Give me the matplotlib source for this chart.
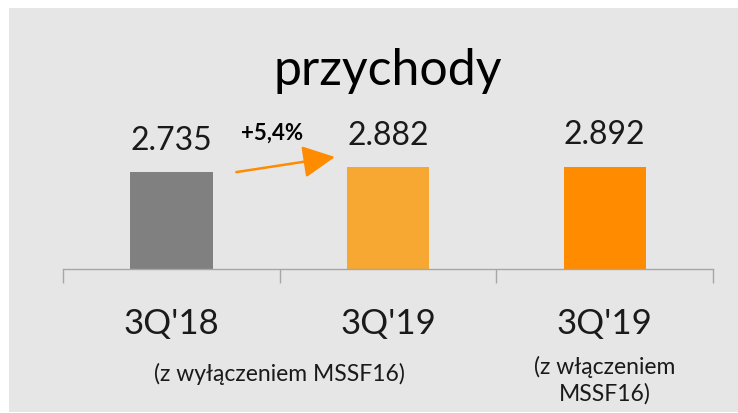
import matplotlib
matplotlib.use("Agg")
import matplotlib.pyplot as plt
import matplotlib.transforms as mtransforms
from matplotlib.patches import Rectangle, FancyArrowPatch

plt.rcParams['font.family'] = ['Lato', 'DejaVu Sans']

categories = ["3Q'18", "3Q'19", "3Q'19"]
subtitles = ["(z wyłączeniem MSSF16)", "(z włączeniem\nMSSF16)"]
values = [2735, 2882, 2892]
value_labels = ["2.735", "2.882", "2.892"]
colors = ["#808080", "#f7a833", "#ff8b00"]
title = "przychody"
growth_label = "+5,4%"

W, H = 738, 413
DPI = 100
fig = plt.figure(figsize=(W / DPI, H / DPI), dpi=DPI, facecolor="white")

def fx(px):
    return px / W

def fy(py):
    return 1 - py / H

# grey background panel
fig.patches.append(Rectangle((fx(9), fy(412)), fx(738) - fx(9), fy(8) - fy(412),
                             transform=fig.transFigure, facecolor="#e6e6e6",
                             edgecolor="none", zorder=-5))

ax_left, ax_right, ax_bottom, ax_top = 63, 713, 269, 60
ax = fig.add_axes([fx(ax_left), fy(ax_bottom), fx(ax_right) - fx(ax_left), fy(ax_top) - fy(ax_bottom)])
ax.set_facecolor("none")
ax.set_zorder(2)

x = list(range(len(values)))
ax.bar(x, values, width=0.38, color=colors, zorder=2)
ax.set_xlim(-0.5, len(values) - 0.5)
ax.set_ylim(0, 5900)

for s in ["top", "left", "right"]:
    ax.spines[s].set_visible(False)
ax.spines["bottom"].set_color("#a6a6a6")
ax.spines["bottom"].set_linewidth(1.0)
ax.set_yticks([])
ax.set_xticks(x)
ax.set_xticklabels([])
ax.tick_params(axis="x", which="major", length=0)
ax.set_xticks([i - 0.5 for i in range(len(values) + 1)], minor=True)
ax.tick_params(axis="x", which="minor", length=10, width=1.0, color="#a6a6a6", direction="out")

text_color = "#1a1a1a"

# value labels
for xi, v, lab in zip(x, values, value_labels):
    ax.annotate(lab, (xi, v), xytext=(0, 16), textcoords="offset points",
                ha="center", va="baseline", fontsize=23, color=text_color)

def below_axis(px):
    return ax.get_xaxis_transform() + mtransforms.ScaledTranslation(0, -px / DPI, fig.dpi_scale_trans)

# category labels
for xi, cat in zip(x, categories):
    ax.text(xi, 0, cat, transform=below_axis(334 - 269), ha="center", va="baseline",
            fontsize=25, color=text_color, clip_on=False)

# subtitles
ax.text(0.5, 0, subtitles[0], transform=below_axis(381 - 269), ha="center", va="baseline",
        fontsize=16.5, color=text_color, clip_on=False)
ax.text(2, 0, subtitles[1], transform=below_axis(401 - 269), ha="center", va="baseline",
        fontsize=16.5, color=text_color, linespacing=1.32, multialignment="center", clip_on=False)

# title
fig.text(fx(388), fy(85), title, ha="center", va="baseline", fontsize=36, color="black")

# growth arrow and label
arrow = FancyArrowPatch((0.30, values[0]), (0.755, values[1] + 280),
                        arrowstyle="-|>,head_length=1.1,head_width=0.55",
                        mutation_scale=18, color="#ff8b00", lw=1.8,
                        shrinkA=0, shrinkB=0, zorder=3, clip_on=False)
ax.add_patch(arrow)
fig.text(fx(272), fy(140), growth_label, ha="center", va="baseline",
         fontsize=16, fontweight="bold", color="black")

fig.savefig("out.png", dpi=DPI, facecolor="white")
